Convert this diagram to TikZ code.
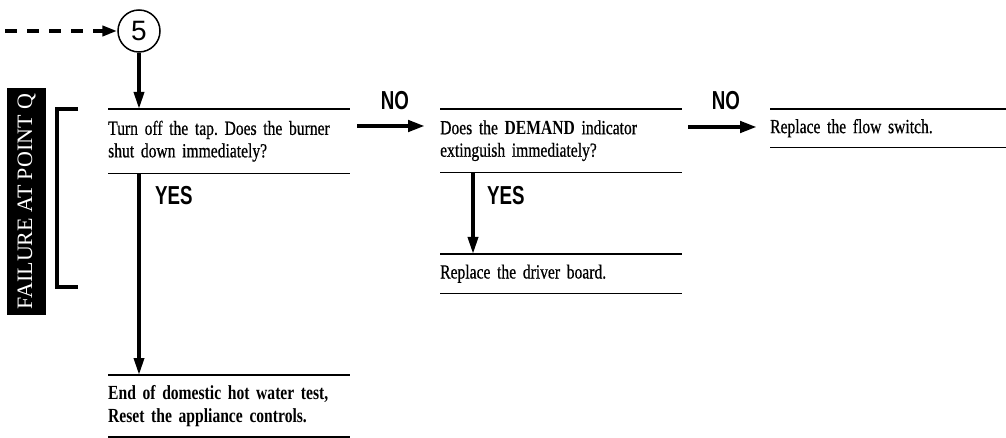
\documentclass[tikz,border=0pt]{standalone}
\usepackage{fontspec}
\setmainfont{Liberation Serif}
\newfontfamily\boxfont{Liberation Serif}[FakeStretch=0.78, UprightFeatures={FakeBold=0.6}]
\newfontfamily\labfont{Liberation Sans}[FakeStretch=0.72]
\newfontfamily\circfont{Liberation Sans}
\usetikzlibrary{arrows.meta}
\tikzset{
  rulebox/.style={rectangle, inner xsep=0pt, inner ysep=0pt, anchor=north west, align=left,
    font=\boxfont\frenchspacing\fontsize{20}{22.5}\selectfont},
  rule/.style={line width=1.6pt},
  varrow/.style={line width=3.5pt, -{Triangle[length=17pt,width=10pt]}},
  harrow/.style={line width=4.5pt, -{Triangle[length=17pt,width=11pt]}},
  dasharrow/.style={line width=4pt, dash pattern=on 12pt off 10pt, -{Triangle[length=15pt,width=10pt]}},
  lab/.style={inner sep=0pt, font=\labfont\bfseries\fontsize{26}{26}\selectfont},
  circ/.style={circle, draw, line width=1.5pt, minimum size=42pt, inner sep=0pt,
    font=\circfont\fontsize{28}{28}\selectfont},
  bracketline/.style={line width=3.5pt},
  faillabel/.style={fill=black, text=white, rotate=90, minimum width=227pt, minimum height=39pt,
    inner sep=0pt, font=\fontsize{22}{22}\selectfont}
}
\begin{document}
\begin{tikzpicture}[x=1pt, y=-1pt]
\useasboundingbox (0,0) rectangle (1006,438);

% start circle and incoming dashed arrow
\node[circ] (c5) at (139,31) {5};
\coordinate (dstart) at (5,31);
\draw[dasharrow] (dstart) -- (c5.west);

% boxes
\node[rulebox, text width=242pt, minimum height=64pt] (b1) at (108,109)
  {Turn off the tap. Does the burner\\shut down immediately?};
\node[rulebox, text width=242pt, minimum height=63pt] (b2) at (440,109)
  {Does the \textbf{DEMAND} indicator\\extinguish immediately?};
\node[rulebox, text width=242pt, minimum height=39pt] (b3) at (440,254)
  {Replace the driver board.};
\node[rulebox, text width=242pt, minimum height=61.5pt] (b4) at (108,375)
  {\textbf{End of domestic hot water test,}\\\textbf{Reset the appliance controls.}};
\node[rulebox, text width=236pt, minimum height=38pt] (b5) at (770,109)
  {Replace the flow switch.};

\foreach \b in {b1,b2,b3,b4,b5}{
  \draw[rule] (\b.north west) -- (\b.north east);
  \draw[rule] (\b.south west) -- (\b.south east);
}

% vertical arrows
\draw[varrow] (c5.south) -- (c5 |- b1.north);
\draw[varrow] (c5 |- b1.south) -- (c5 |- b4.north);
\draw[varrow] ([xshift=33pt]b2.south west) -- ([xshift=33pt]b3.north west);

% horizontal NO arrows
\draw[harrow] ([shift={(7pt,-17pt)}]b1.north east) -- ([shift={(-15pt,-17pt)}]b2.north west);
\draw[harrow] ([shift={(6pt,-18pt)}]b2.north east) -- ([shift={(-13pt,-18pt)}]b5.north west);

% labels
\node[lab] (no1) at (395,101) {NO};
\node[lab] (no2) at (726,101) {NO};
\node[lab, anchor=west] (yes1) at (155,196) {YES};
\node[lab, anchor=west] (yes2) at (487,196) {YES};

% failure label and bracket
\node[faillabel] (fail) at (26.5,201.5) {FAILURE AT POINT Q};
\draw[bracketline] (78,109) -- (57,109) -- (57,287) -- (78,287);
\end{tikzpicture}
\end{document}
